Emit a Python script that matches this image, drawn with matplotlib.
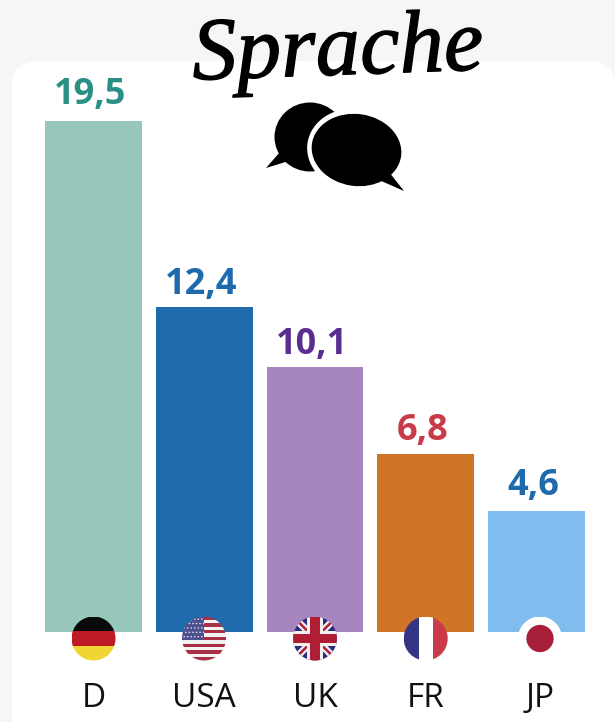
import numpy as np
import matplotlib
matplotlib.use('Agg')
import matplotlib.pyplot as plt
import matplotlib.patheffects as pe
from matplotlib.patches import Circle, Ellipse, FancyBboxPatch, Polygon, Rectangle

# Data
countries = ['D', 'USA', 'UK', 'FR', 'JP']
values = [19.5, 12.4, 10.1, 6.8, 4.6]
value_labels = ['19,5', '12,4', '10,1', '6,8', '4,6']
bar_colors = ['#96c7ba', '#1f69ad', '#a785be', '#d07428', '#80bdee']
label_colors = ['#2a8f85', '#1f69ad', '#5a2d91', '#c93a49', '#1f69ad']
label_gaps = [0.3, 0.17, 0.17, 0.17, 0.27]
title = 'Sprache'

# Figure size in pixels
W, H = 615, 722
fig = plt.figure(figsize=(W / 100, H / 100), dpi=100, facecolor='#f6f6f6')

# Overlay in pixel coordinates for the white card
bg = fig.add_axes([0, 0, 1, 1], zorder=0)
bg.set_xlim(0, W)
bg.set_ylim(H, 0)
bg.axis('off')
bg.add_patch(FancyBboxPatch((12, 61), 603, 700, boxstyle='round,pad=0,rounding_size=26',
                            fc='white', ec='none'))

# Bars
x0, step = 93.5, 110.75
px_per_unit = 26.2
base_y = 632
ax = fig.add_axes([0, 0, 1, 1], zorder=1)
ax.patch.set_alpha(0)
ax.set_xlim(-x0 / step, (W - x0) / step)
ax.set_ylim(-(H - base_y) / px_per_unit, base_y / px_per_unit)
ax.axis('off')
pos = np.arange(len(countries))
ax.bar(pos, values, width=0.875, color=bar_colors)

for i in pos:
    ax.text(i - 0.03, values[i] + label_gaps[i], value_labels[i], ha='center', va='bottom',
            color=label_colors[i], fontsize=26, fontweight='bold', family='Open Sans')
    ax.text(i + (0.03 if i == 4 else 0), -2.54, countries[i], ha='center', va='center',
            color='#111111', fontsize=24, family='Open Sans')


# Round flags, each in its own small axes
def flag_axes(cx, cy, r):
    a = fig.add_axes([(cx - r) / W, 1 - (cy + r) / H, 2 * r / W, 2 * r / H], zorder=2)
    a.set_xlim(-1, 1)
    a.set_ylim(-1, 1)
    a.axis('off')
    a.patch.set_alpha(0)
    clip = Circle((0, 0), 1, transform=a.transData)
    return a, clip


def add_rect(a, clip, x, y, w, h, color, z=1):
    p = Rectangle((x, y), w, h, fc=color, ec='none', zorder=z)
    a.add_patch(p)
    p.set_clip_path(clip)


flag_y = 638.5
flag_r = 22

# Germany
a, c = flag_axes(93.5, flag_y, flag_r)
add_rect(a, c, -1, 1 / 3, 2, 2 / 3, '#0a0a0a')
add_rect(a, c, -1, -1 / 3, 2, 2 / 3, '#bf1b24')
add_rect(a, c, -1, -1, 2, 2 / 3, '#efd633')

# USA
a, c = flag_axes(204, flag_y, flag_r)
for k in range(13):
    add_rect(a, c, -1, 1 - (k + 1) * 2 / 13, 2, 2 / 13, '#a92f45' if k % 2 == 0 else '#f3f3f3')
add_rect(a, c, -1, -0.08, 1.0, 1.08, '#4e4f8e')
for row in range(5):
    for col in range(6):
        dot = Circle((-0.9 + col * 0.16 + (row % 2) * 0.08, 0.88 - row * 0.2), 0.035,
                     fc='#e8e8f0', ec='none')
        a.add_patch(dot)
        dot.set_clip_path(c)

# UK
a, c = flag_axes(315, flag_y, flag_r)
add_rect(a, c, -1, -1, 2, 2, '#2b2a7c')
for sgn in (1, -1):
    p = a.plot([-1, 1], [-sgn, sgn], color='#f4f0f0', lw=5, solid_capstyle='butt', zorder=2)[0]
    p.set_clip_path(c)
    p = a.plot([-1, 1], [-sgn, sgn], color='#b01e35', lw=1.8, solid_capstyle='butt', zorder=2)[0]
    p.set_clip_path(c)
add_rect(a, c, -0.36, -1, 0.72, 2, '#f4f0f0', z=3)
add_rect(a, c, -1, -0.36, 2, 0.72, '#f4f0f0', z=3)
add_rect(a, c, -0.22, -1, 0.44, 2, '#b01e35', z=4)
add_rect(a, c, -1, -0.22, 2, 0.44, '#b01e35', z=4)

# France
a, c = flag_axes(425.7, flag_y, flag_r)
add_rect(a, c, -1, -1, 0.68, 2, '#353585')
add_rect(a, c, -0.32, -1, 0.66, 2, '#ffffff')
add_rect(a, c, 0.34, -1, 0.66, 2, '#cb3a48')

# Japan
a, c = flag_axes(540, flag_y, flag_r)
add_rect(a, c, -1, -1, 2, 2, '#ffffff')
a.add_patch(Circle((0, 0), 0.62, fc='#a71f38', ec='none'))

# Title and bubbles on top
top = fig.add_axes([0, 0, 1, 1], zorder=3)
top.set_xlim(0, W)
top.set_ylim(H, 0)
top.axis('off')
top.patch.set_alpha(0)
top.text(338, 53, title, ha='center', va='center', fontsize=64, style='italic',
         family='Liberation Serif', color='black', rotation=2,
         path_effects=[pe.withStroke(linewidth=1.0, foreground='black')])

top.add_patch(Ellipse((310, 137), 71, 69, fc='black', ec='none'))
top.add_patch(Polygon([(266, 168), (280, 152), (292, 160)], fc='black', ec='none'))
top.add_patch(Polygon([(288, 156), (310, 168), (318, 150)], fc='black', ec='none'))
top.add_patch(Ellipse((356, 150), 98, 83, angle=8, fc='white', ec='none'))
top.add_patch(Ellipse((356.5, 150), 90, 72, angle=8, fc='black', ec='none'))
top.add_patch(Polygon([(404, 191), (379, 180), (389, 172)], fc='black', ec='none'))

fig.savefig('out.png', dpi=100, facecolor=fig.get_facecolor())
